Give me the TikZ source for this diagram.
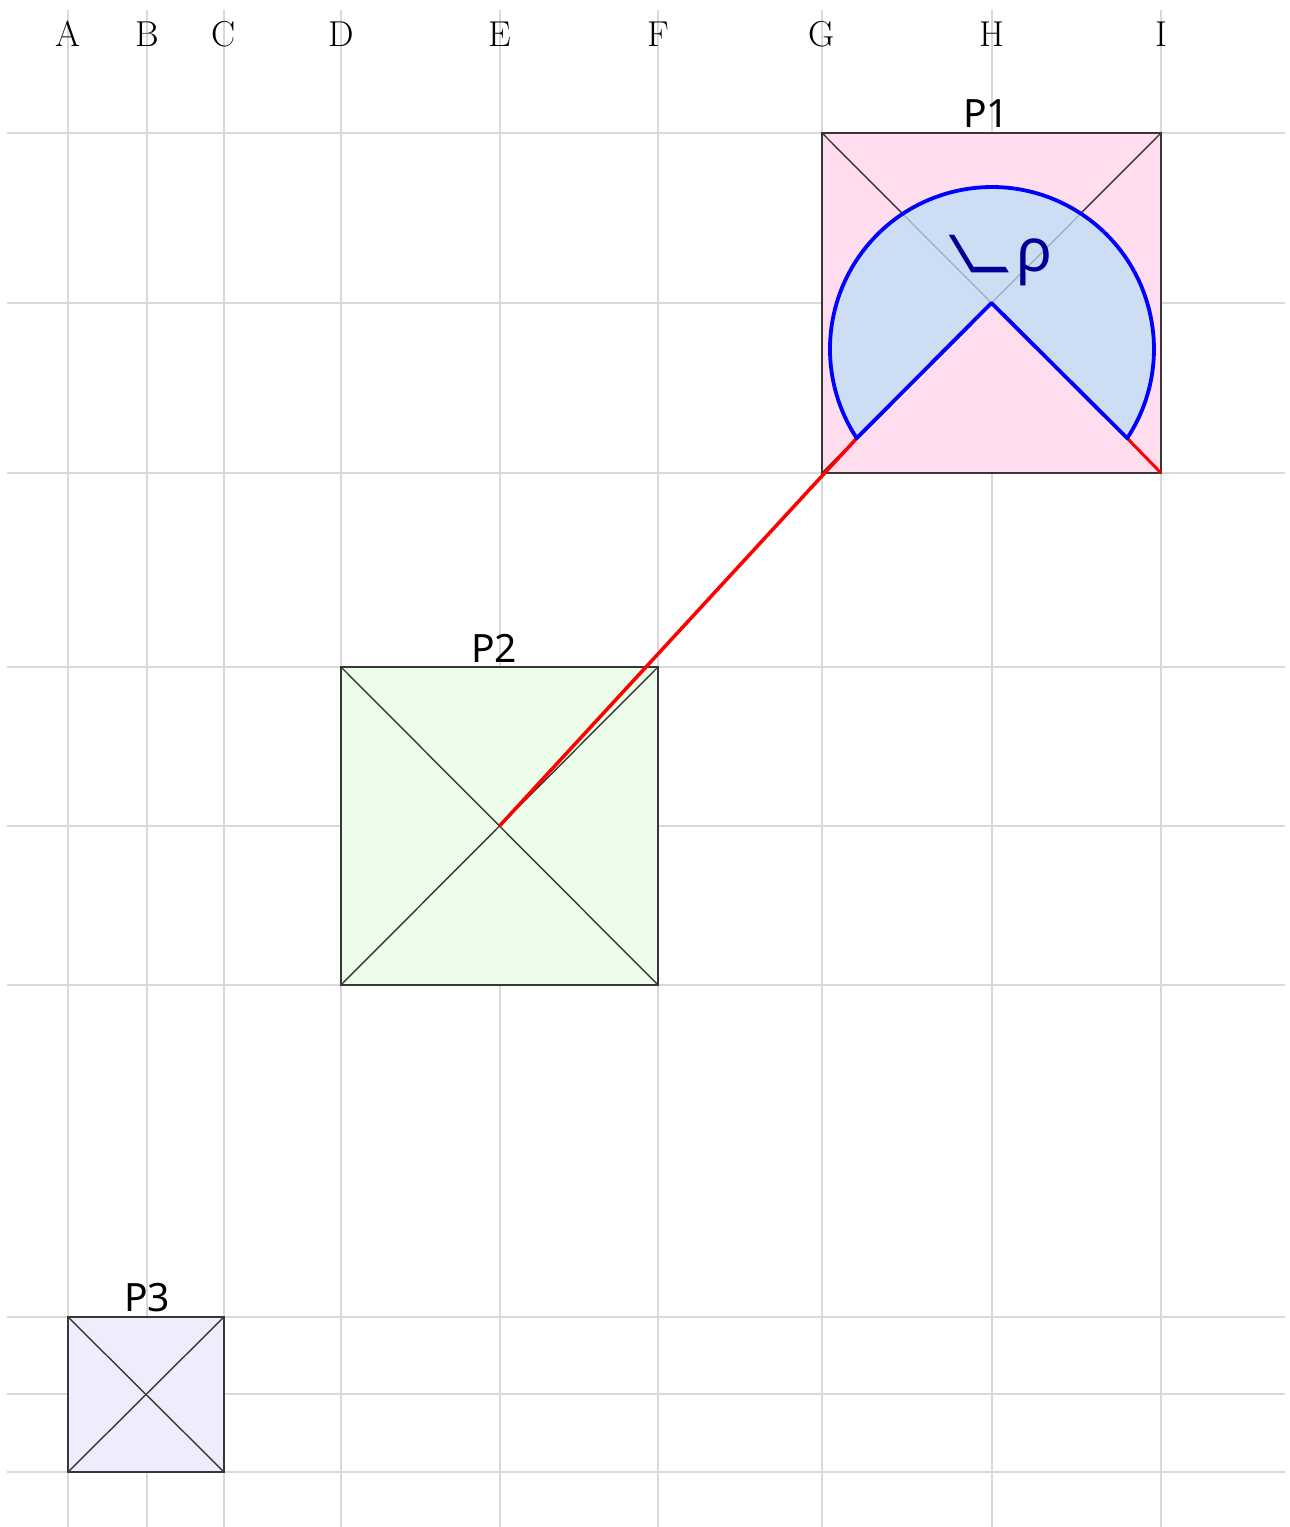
\documentclass[tikz,border=0pt]{standalone}
\usepackage{fontspec}
\newfontfamily\labfont{Noto Sans}
\newfontfamily\symfont{DejaVu Sans}
\definecolor{gridc}{RGB}{217,217,217}
\definecolor{edgec}{RGB}{55,55,55}
\definecolor{pinkfill}{RGB}{255,221,238}
\definecolor{greenfill}{RGB}{236,253,233}
\definecolor{lavfill}{RGB}{237,237,253}
\definecolor{sectorc}{RGB}{187,222,247}
\definecolor{navy}{RGB}{0,0,150}
\begin{document}
\begin{tikzpicture}[x=1pt,y=1pt,
  gridline/.style={draw=gridc, line width=1.8pt},
  sq/.style={draw=edgec, line width=1.6pt, inner sep=0pt, outer sep=0pt, rectangle},
  diag/.style={draw=edgec, line width=1.4pt},
  collab/.style={font=\fontsize{36}{40}\selectfont, anchor=base, inner sep=0pt},
  plab/.style={font=\labfont\fontsize{39}{44}\selectfont, anchor=base, inner sep=0pt},
  redline/.style={draw=red, line width=3.5pt},
  blueline/.style={draw=blue, line width=3.8pt, line join=round},
]
\useasboundingbox (0,0) rectangle (1290,1527);
% grid
\foreach \x in {68,147,224,341,500,658,822,992,1161}
  \draw[gridline] (\x,0) -- (\x,1517);
\foreach \y in {1394,1224,1054,860,701,542,210,133,55}
  \draw[gridline] (7,\y) -- (1285,\y);
% column letters
\foreach \x/\l in {68/A,147/B,224/C,341/D,500/E,658/F,822/G,992/H,1161/I}
  \node[collab] (col\l) at (\x,1480) {\l};
% squares
\node[sq, fill=pinkfill, minimum width=339pt, minimum height=340pt] (P1) at (991.5,1224) {};
\node[sq, fill=greenfill, minimum width=317pt, minimum height=318pt] (P2) at (499.5,701) {};
\node[sq, fill=lavfill, minimum width=156pt, minimum height=155pt] (P3) at (146,132.5) {};
\foreach \p in {P1,P2,P3}
  \draw[diag] (\p.north west) -- (\p.south east) (\p.south west) -- (\p.north east);
% labels
\node[plab] (lP1) at (986,1399) {P1};
\node[plab] (lP2) at (494,864) {P2};
\node[plab] (lP3) at (147,215) {P3};
% sector
\coordinate (v) at (P1.center);
\coordinate (arcL) at (856.8,1088.8);
\coordinate (arcR) at (1127.2,1088.8);
\fill[sectorc, fill opacity=0.75] (v) -- (arcR) arc[start angle=-33.4, end angle=213.4, radius=162] -- cycle;
\draw[redline] (P2.center) -- (arcL);
\draw[redline, line width=3pt] (arcR) -- (P1.south east);
\draw[blueline] (v) -- (arcR) arc[start angle=-33.4, end angle=213.4, radius=162] -- cycle;
% angle label
\node[anchor=base west, xslant=-0.6, text=navy, font=\symfont\fontsize{67}{77}\selectfont, inner sep=0pt] (ang) at (966.5,1247) {∟};
\node[anchor=base west, text=navy, font=\labfont\fontsize{60}{70}\selectfont, inner sep=0pt] (rho) at (1016,1255) {ρ};
\end{tikzpicture}
\end{document}
